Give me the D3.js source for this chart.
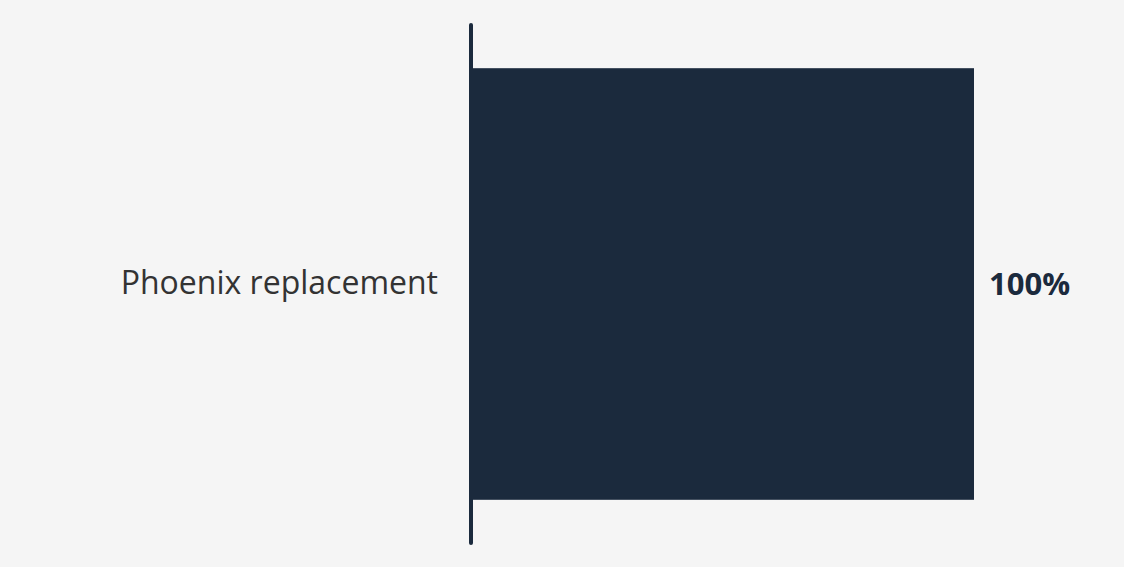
<!DOCTYPE html>
<html><head><meta charset="utf-8">
<script src="https://cdn.jsdelivr.net/npm/d3@7"></script>
<style>
html,body{margin:0;padding:0;background:#f5f5f5;}
svg{display:block;}
</style></head>
<body>
<svg id="chart" width="1124" height="567"></svg>
<script>
const categories = ["Phoenix replacement"];
const values = [100];
const valueLabels = ["100%"];

const W = 1124, H = 567;
const margin = {top: 24, right: 150, bottom: 23, left: 471};
const svg = d3.select("#chart");
svg.append("rect").attr("width", W).attr("height", H).attr("fill", "#f5f5f5");

const x = d3.scaleLinear().domain([0, 100]).range([margin.left, 974]);
const y = d3.scaleBand().domain(categories).range([margin.top, H - margin.bottom]).paddingInner(0.17).paddingOuter(0.085);

const barColor = "#1b2a3d";

svg.selectAll("rect.bar").data(values).enter().append("rect")
  .attr("class", "bar")
  .attr("x", x(0) - 2)
  .attr("y", (d, i) => y(categories[i]))
  .attr("width", d => x(d) - x(0) + 2)
  .attr("height", y.bandwidth())
  .attr("fill", barColor);

svg.append("line")
  .attr("x1", x(0)).attr("x2", x(0))
  .attr("y1", margin.top + 1).attr("y2", H - margin.bottom - 1)
  .attr("stroke", barColor).attr("stroke-width", 4).attr("stroke-linecap", "round");

svg.selectAll("text.cat").data(categories).enter().append("text")
  .attr("class", "cat")
  .attr("x", 438)
  .attr("y", d => y(d) + y.bandwidth() / 2)
  .attr("dy", "0.3em")
  .attr("text-anchor", "end")
  .attr("font-family", "Open Sans")
  .attr("font-size", 32)
  .attr("fill", "#333333")
  .text(d => d);

svg.selectAll("text.val").data(values).enter().append("text")
  .attr("class", "val")
  .attr("x", d => x(d) + 15)
  .attr("y", (d, i) => y(categories[i]) + y.bandwidth() / 2)
  .attr("dy", "0.37em")
  .attr("font-family", "Open Sans")
  .attr("font-weight", "bold")
  .attr("font-size", 31)
  .attr("fill", barColor)
  .text((d, i) => valueLabels[i]);
</script>
</body></html>
